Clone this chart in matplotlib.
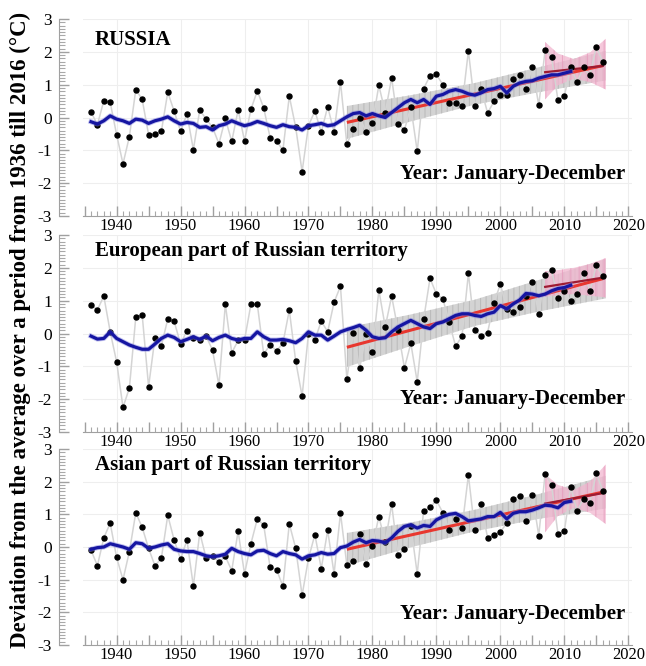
import numpy as np
import matplotlib
matplotlib.use("Agg")
import matplotlib.pyplot as plt
from matplotlib.ticker import MultipleLocator, FuncFormatter

plt.rcParams['font.family'] = ['Liberation Serif', 'DejaVu Serif']
plt.rcParams['hatch.linewidth'] = 0.8

# ---------------- data ----------------
years = np.arange(1936, 2017)
ma_years = np.arange(1936, 2012)

russia = [0.17, -0.22, 0.51, 0.46, -0.52, -1.41, -0.58, 0.85, 0.55, -0.52,
          -0.51, -0.42, 0.77, 0.19, -0.42, 0.11, -0.98, 0.23, -0.05, -0.30,
          -0.80, -0.03, -0.73, 0.23, -0.71, 0.25, 0.81, 0.29, -0.61, -0.71,
          -1.00, 0.65, -0.30, -1.65, -0.25, 0.20, -0.45, 0.33, -0.44, 1.08,
          -0.81, -0.36, 0.00, -0.44, -0.17, 0.98, 0.15, 1.21, -0.20, -0.38,
          0.33, -1.03, 0.88, 1.27, 1.31, 1.00, 0.44, 0.44, 0.35, 2.03,
          0.34, 0.87, 0.14, 0.49, 0.69, 0.68, 1.18, 1.29, 0.87, 1.54,
          0.37, 2.06, 1.84, 0.53, 0.66, 1.53, 1.08, 1.53, 1.28, 2.15, 1.70]

europe = [0.87, 0.72, 1.14, 0.05, -0.86, -2.25, -1.66, 0.50, 0.57, -1.62,
          -0.13, -0.37, 0.44, 0.37, -0.32, 0.09, -0.15, -0.21, -0.08, -0.51,
          -1.58, 0.89, -0.59, -0.21, -0.20, 0.89, 0.89, -0.63, -0.34, -0.53,
          -0.30, 0.71, -0.84, -1.91, 0.00, -0.20, 0.38, 0.05, 0.95, 1.44,
          -1.39, 0.02, -1.05, -0.03, -0.55, 1.32, 0.20, 1.14, 0.10, -1.05,
          -0.30, -1.47, 0.43, 1.68, 1.20, 1.06, 0.35, -0.39, -0.08, 1.83,
          0.10, -0.07, 0.03, 0.94, 1.50, 0.75, 0.64, 0.80, 1.15, 1.57,
          0.60, 1.78, 1.93, 1.07, 1.30, 0.98, 1.19, 1.83, 1.29, 2.08, 1.75]

asia = [-0.10, -0.57, 0.28, 0.73, -0.32, -1.00, -0.14, 1.05, 0.60, -0.04,
        -0.58, -0.34, 0.97, 0.21, -0.37, 0.21, -1.20, 0.44, -0.34, -0.27,
        -0.46, -0.29, -0.72, 0.48, -0.82, 0.10, 0.86, 0.67, -0.62, -0.69,
        -1.20, 0.71, -0.04, -1.48, -0.35, 0.38, -0.66, 0.51, -0.82, 1.04,
        -0.55, -0.42, 0.40, -0.52, 0.02, 0.93, 0.15, 1.31, -0.25, -0.05,
        0.65, -0.82, 1.10, 1.21, 1.43, 1.05, 0.51, 0.86, 0.58, 2.20,
        0.51, 1.31, 0.28, 0.38, 0.46, 0.73, 1.46, 1.56, 0.80, 1.60,
        0.35, 2.25, 1.90, 0.41, 0.48, 1.83, 1.10, 1.48, 1.36, 2.26, 1.72]

russia_ma = [-0.13, -0.20, -0.10, 0.05, -0.05, -0.10, -0.18, -0.05, -0.08, -0.18,
             -0.10, -0.05, 0.02, -0.10, -0.20, -0.15, -0.18, -0.30, -0.28, -0.38,
             -0.25, -0.20, -0.10, -0.18, -0.25, -0.20, -0.12, -0.18, -0.25, -0.30,
             -0.22, -0.28, -0.30, -0.38, -0.25, -0.22, -0.18, -0.25, -0.22, -0.10,
             0.02, 0.12, 0.15, 0.05, 0.12, 0.05, 0.00, 0.15, 0.30, 0.45,
             0.55, 0.45, 0.55, 0.40, 0.65, 0.70, 0.80, 0.85, 0.80, 0.72,
             0.68, 0.75, 0.85, 0.88, 0.95, 0.75, 0.95, 1.05, 1.10, 1.12,
             1.20, 1.25, 1.30, 1.30, 1.35, 1.40]

europe_ma = [-0.08, -0.17, -0.15, 0.05, -0.15, -0.25, -0.35, -0.42, -0.48, -0.48,
             -0.32, -0.15, -0.05, -0.12, -0.25, -0.18, -0.10, -0.18, -0.08, -0.22,
             -0.12, -0.05, -0.15, -0.20, -0.15, -0.15, 0.05, -0.10, -0.20, -0.20,
             -0.18, -0.22, -0.28, -0.15, 0.05, -0.05, -0.05, -0.20, -0.08, 0.05,
             0.12, 0.18, 0.25, 0.10, -0.10, -0.15, -0.13, 0.05, 0.20, 0.30,
             0.40, 0.30, 0.20, 0.15, 0.30, 0.35, 0.45, 0.55, 0.60, 0.60,
             0.55, 0.52, 0.60, 0.65, 0.85, 0.75, 0.90, 1.02, 1.22, 1.20,
             1.15, 1.20, 1.30, 1.37, 1.40, 1.47]

asia_ma = [-0.07, -0.02, 0.00, 0.10, 0.05, 0.00, -0.07, 0.13, 0.10, -0.04,
           0.00, 0.06, 0.10, -0.07, -0.12, -0.14, -0.14, -0.20, -0.27, -0.30,
           -0.27, -0.22, -0.04, -0.14, -0.20, -0.24, -0.12, -0.10, -0.20, -0.27,
           -0.14, -0.20, -0.24, -0.37, -0.27, -0.24, -0.17, -0.22, -0.20, -0.02,
           0.03, 0.15, 0.23, 0.13, 0.20, 0.18, 0.13, 0.28, 0.48, 0.63,
           0.68, 0.58, 0.66, 0.63, 0.83, 0.93, 1.00, 1.03, 0.93, 0.80,
           0.83, 0.86, 0.93, 0.93, 1.06, 0.86, 1.03, 1.08, 1.08, 1.13,
           1.20, 1.28, 1.26, 1.20, 1.36, 1.40]

# long-term trend 1976-2016 and its band
trend_years = [1976, 2016]
russia_trend = [-0.15, 1.58]
europe_trend = [-0.42, 1.67]
asia_trend = [-0.07, 1.68]

band_years = [1976, 1986, 1996, 2006, 2016.5]
russia_band_lo = [-0.65, -0.12, 0.39, 0.77, 1.13]
russia_band_hi = [0.35, 0.68, 1.05, 1.53, 2.03]
europe_band_lo = [-1.02, -0.38, 0.23, 0.67, 1.07]
europe_band_hi = [0.18, 0.58, 1.03, 1.63, 2.27]
asia_band_lo = [-0.57, -0.01, 0.48, 0.86, 1.18]
asia_band_hi = [0.43, 0.75, 1.14, 1.62, 2.18]

# short-term trend 2007-2016 and its band
short_years = [2007, 2016]
russia_short = [1.38, 1.57]
europe_short = [1.42, 1.70]
asia_short = [1.33, 1.65]

pink_years = [2007, 2009, 2011.5, 2014, 2016.5]
russia_pink_lo = [0.55, 0.98, 1.18, 1.08, 0.85]
russia_pink_hi = [2.30, 1.95, 1.78, 1.98, 2.40]
europe_pink_lo = [1.12, 1.17, 1.20, 1.15, 1.10]
europe_pink_hi = [1.90, 1.93, 2.00, 2.12, 2.30]
asia_pink_lo = [0.45, 0.95, 1.20, 1.05, 0.70]
asia_pink_hi = [2.23, 1.90, 1.75, 2.00, 2.53]

titles = ["RUSSIA", "European part of Russian territory", "Asian part of Russian territory"]
subtitle = "Year: January-December"
ylabel = "Deviation from the average over a period from 1936 till 2016 (°C)"

panels = [
    (russia, russia_ma, russia_trend, russia_band_lo, russia_band_hi,
     russia_short, russia_pink_lo, russia_pink_hi, 2.35, -1.72),
    (europe, europe_ma, europe_trend, europe_band_lo, europe_band_hi,
     europe_short, europe_pink_lo, europe_pink_hi, 2.5, -2.0),
    (asia, asia_ma, asia_trend, asia_band_lo, asia_band_hi,
     asia_short, asia_pink_lo, asia_pink_hi, 2.5, -2.05),
]

# ---------------- layout ----------------
W, H = 646, 666
fig = plt.figure(figsize=(W / 100, H / 100), dpi=100)
left_px, right_px = 82.7, 631.5
panel_px = [(19, 216), (235, 432), (449, 645)]

def dec_fmt(v, p):
    y = int(round(v))
    return str(y) if y % 10 == 0 else ""

for i, (vals, ma, tr, blo, bhi, sh, plo, phi, ty, sy) in enumerate(panels):
    top, bot = panel_px[i]
    ax = fig.add_axes([left_px / W, 1 - bot / H, (right_px - left_px) / W, (bot - top) / H])
    ax.set_xlim(1934.7, 2020.5)
    ax.set_ylim(-3, 3)

    for x in range(1940, 2021, 10):
        ax.axvline(x, color='#eeeeee', lw=0.8, zorder=0)
    for y in range(-2, 4):
        ax.axhline(y, color='#eeeeee', lw=0.8, zorder=0)

    ax.fill_between(band_years, blo, bhi, facecolor='#d3d3d3', edgecolor='#bcbcbc',
                    hatch='|||', lw=0, zorder=1)
    ax.fill_between(pink_years, plo, phi, facecolor='#f2b6cf', edgecolor='#e59cbd',
                    hatch='||', lw=0, alpha=0.75, zorder=1.5)
    ax.plot(years, vals, color='#d4d4d4', lw=1.1, zorder=2)
    ax.plot(years, vals, 'o', color='black', ms=3.6, zorder=5)
    ax.plot(trend_years, tr, color='#e8372f', lw=2.2, zorder=4, solid_capstyle='butt')
    ax.plot(short_years, sh, color='#9e1c32', lw=1.6, zorder=4.5)
    ax.plot(ma_years, ma, color='#8080e0', lw=3.6, alpha=0.5, zorder=5.5)
    ax.plot(ma_years, ma, color='#1616a2', lw=2.3, zorder=6)

    for s in ['top', 'right']:
        ax.spines[s].set_visible(False)
    ax.spines['left'].set_position(('outward', 17))
    ax.spines['left'].set_color('#a0a0a0')
    ax.spines['bottom'].set_color('#a0a0a0')

    ax.yaxis.set_major_locator(MultipleLocator(1))
    ax.yaxis.set_minor_locator(MultipleLocator(0.1))
    ax.xaxis.set_major_locator(MultipleLocator(5))
    ax.xaxis.set_minor_locator(MultipleLocator(1))
    ax.xaxis.set_major_formatter(FuncFormatter(dec_fmt))
    ax.yaxis.set_major_formatter(FuncFormatter(lambda v, p: f"{int(round(v))}"))

    ax.tick_params(axis='y', which='major', direction='in', length=7, width=1,
                   color='#a0a0a0', labelsize=12.5, pad=5)
    ax.tick_params(axis='y', which='minor', direction='in', length=4.5, width=0.8,
                   color='#a8a8a8')
    ax.tick_params(axis='x', which='major', direction='in', length=7, width=1,
                   color='#a0a0a0', labelsize=12, pad=1.5)
    ax.tick_params(axis='x', which='minor', direction='in', length=3.5, width=0.8,
                   color='#a8a8a8')

    ax.text(1936.6, ty, titles[i], fontsize=15, fontweight='bold', va='center', ha='left')
    ax.text(2019.5, sy, subtitle, fontsize=15, fontweight='bold', va='center', ha='right')

fig.text(0.032, 0.505, ylabel, rotation=90, va='center', ha='center',
         fontsize=16.5, fontweight='bold')

fig.savefig("out.png", dpi=100)
